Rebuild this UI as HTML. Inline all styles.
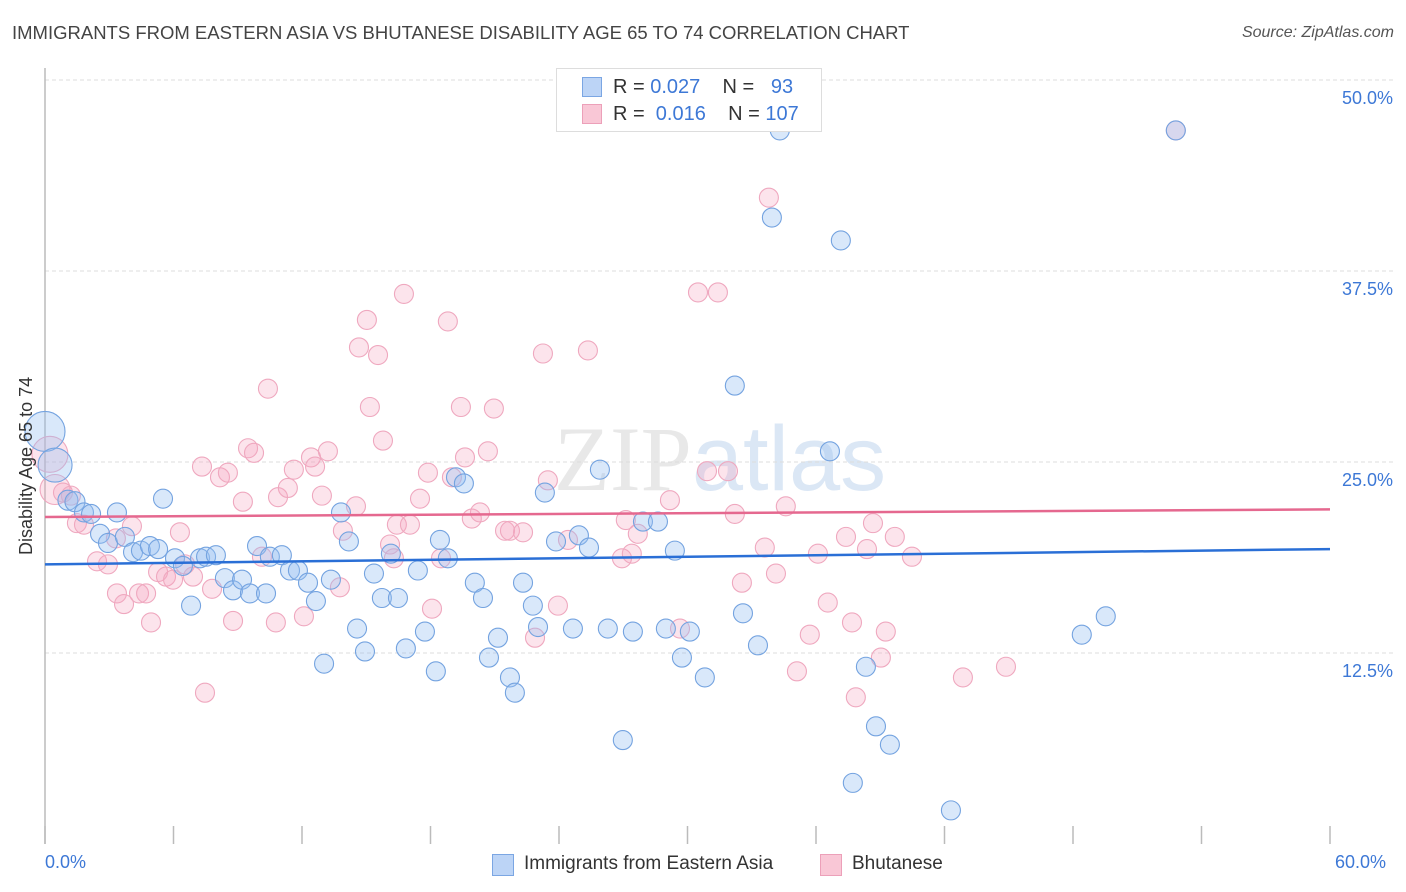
<!DOCTYPE html>
<html><head><meta charset="utf-8"><style>
body{margin:0;background:#fff;font-family:"Liberation Sans",sans-serif;}
#wrap{position:relative;width:1406px;height:892px;overflow:hidden;}
.t{position:absolute;white-space:nowrap;}
</style></head><body>
<div id="wrap">
<div class="t" style="left:12px;top:22px;font-size:18.5px;color:#444;">IMMIGRANTS FROM EASTERN ASIA VS BHUTANESE DISABILITY AGE 65 TO 74 CORRELATION CHART</div>
<div class="t" style="right:12px;top:24px;font-size:16px;color:#555;font-style:italic;">Source: ZipAtlas.com</div>
<svg id="svg" width="1406" height="892" style="position:absolute;left:0;top:0"></svg>
</div>
<script>
const blueX=[0,0.47,1.07,1.4,1.82,2.15,2.57,2.94,3.36,3.73,4.11,4.48,4.9,5.28,5.51,6.07,6.44,6.82,7.24,7.52,7.98,8.4,8.78,9.2,9.57,9.9,10.32,10.5,11.06,11.44,11.81,12.28,12.65,13.03,13.35,13.82,14.19,14.57,14.94,15.36,15.73,16.15,16.48,16.85,17.41,17.74,18.25,18.44,18.81,19.19,19.56,20.07,20.45,20.73,21.15,21.71,21.94,22.32,22.78,23.02,23.34,23.86,24.65,24.93,25.4,25.91,26.28,26.98,27.45,27.92,28.62,28.99,29.41,29.74,30.11,30.81,32.21,32.59,33.29,33.94,34.31,36.65,37.16,37.72,38.33,38.8,39.45,42.3,48.41,49.53,52.8];
const blueY=[27.0,24.8,22.5,22.4,21.7,21.6,20.3,19.7,21.7,20.1,19.1,19.2,19.5,19.3,22.6,18.7,18.2,15.6,18.7,18.8,18.9,17.4,16.6,17.3,16.4,19.5,16.4,18.8,18.9,17.9,17.9,17.1,15.9,11.8,17.3,21.7,19.8,14.1,12.6,17.7,16.1,19.0,16.1,12.8,17.9,13.9,11.3,19.9,18.7,24.0,23.6,17.1,16.1,12.2,13.5,10.9,9.9,17.1,15.6,14.2,23.0,19.8,14.1,20.2,19.4,24.5,14.1,6.8,13.9,21.1,21.1,14.1,19.2,12.2,13.9,10.9,30.0,15.1,13.0,41.0,46.7,25.7,39.5,4.0,11.6,7.7,6.5,2.2,13.7,14.9,46.7];
const blueSize=[20,17,10,10];
const pinkX=[0.23,0.47,0.84,1.21,1.49,1.82,2.43,2.94,3.31,3.36,3.69,4.06,4.39,4.72,4.95,5.28,5.65,5.98,6.3,6.54,6.91,7.33,7.47,7.8,8.17,8.54,8.78,9.24,9.48,9.76,10.13,10.41,10.78,10.88,11.34,11.62,12.09,12.42,12.61,12.93,13.21,13.77,13.91,14.52,14.66,15.03,15.17,15.55,15.78,16.11,16.29,16.43,16.76,17.04,17.51,17.88,18.07,18.49,18.81,19.0,19.42,19.61,19.93,20.31,20.68,20.96,21.48,21.71,22.32,22.88,23.25,23.48,23.95,24.42,25.35,26.94,27.12,27.4,27.68,29.18,29.65,30.49,30.91,31.42,31.89,32.21,32.54,33.61,33.8,34.13,34.59,35.11,35.71,36.09,36.55,37.4,37.68,37.86,38.38,38.66,39.03,39.26,39.68,40.48,42.86,44.87,52.8];
const pinkY=[25.5,23.2,23.0,22.8,21.0,20.9,18.5,18.3,20.0,16.4,15.7,20.8,16.4,16.4,14.5,17.8,17.5,17.3,20.4,18.3,17.5,24.7,9.9,16.7,24.0,24.3,14.6,22.4,25.9,25.6,18.8,29.8,14.5,22.7,23.3,24.5,14.9,25.3,24.7,22.8,25.7,16.8,20.5,22.1,32.5,34.3,28.6,32.0,26.4,19.6,18.7,20.9,36.0,20.9,22.6,24.3,15.4,18.7,34.2,24.0,28.6,25.3,21.3,21.7,25.7,28.5,20.5,20.5,20.4,13.5,32.1,23.8,15.6,19.9,32.3,18.7,21.2,19.0,20.3,22.5,14.1,36.1,24.4,36.1,24.4,21.6,17.1,19.4,42.3,17.7,22.1,11.3,13.7,19.0,15.8,20.1,14.5,9.6,19.3,21.0,12.2,13.9,20.1,18.8,10.9,11.6,46.7];
const pinkSize=[18,15];
const blueTrend=[18.3,19.3];
const pinkTrend=[21.4,21.9];
const yTicks=[12.5,25.0,37.5,50.0];
const yTickLabels=["12.5%","25.0%","37.5%","50.0%"];

const X0=45,X1=1330,Y0=844,PXY=15.28;
const sx=v=>X0+v*(X1-X0)/60;
const sy=v=>Y0-v*PXY;
const svg=document.getElementById('svg');
const NS='http://www.w3.org/2000/svg';
function mk(tag,attrs,parent){const e=document.createElementNS(NS,tag);for(const k in attrs)e.setAttribute(k,attrs[k]);(parent||svg).appendChild(e);return e;}

const wm=mk('text',{x:720,y:490,'text-anchor':'middle','font-size':92,'font-family':'Liberation Serif, serif',fill:'#e8e8e8'});


wm.innerHTML='ZIP<tspan font-family="Liberation Sans, sans-serif" fill="#dbe7f5">atlas</tspan>';

yTicks.forEach((v,i)=>{
  const g=mk('line',{x1:X0,x2:1393,y1:sy(v),y2:sy(v),stroke:'#dcdcdc','stroke-dasharray':'4,3'});
  
  
  const t=mk('text',{x:1393,y:sy(v)+24,'text-anchor':'end','font-size':18,fill:'#3d78d6','font-family':'Liberation Sans, sans-serif'});
  t.textContent=yTickLabels[i];
  
  
});
const ax=mk('line',{x1:X0,x2:X0,y1:68,y2:Y0,stroke:'#bbb','stroke-width':1.5});


for(let i=0;i<=10;i++){
  const tk=mk('line',{x1:sx(i*6),x2:sx(i*6),y1:826,y2:Y0,stroke:'#bbb','stroke-width':1.5});
  
  
}
function pts(xs,ys,sz,fill,stroke,name){
  xs.forEach((x,i)=>{
    const c=mk('circle',{cx:sx(x),cy:sy(ys[i]),r:sz[i]||9.5,fill:fill,stroke:stroke,'stroke-width':1.1});
    
    
  });
}
pts(pinkX,pinkY,pinkSize,'rgba(245,165,192,0.3)','#efa8bf','bhutanese-point');
pts(blueX,blueY,blueSize,'rgba(150,190,240,0.36)','#74a3e0','eastern-asia-point');
const bl=mk('line',{x1:X0,x2:X1,y1:sy(blueTrend[0]),y2:sy(blueTrend[1]),stroke:'#2a6fd6','stroke-width':2.5});


const pl=mk('line',{x1:X0,x2:X1,y1:sy(pinkTrend[0]),y2:sy(pinkTrend[1]),stroke:'#e5688f','stroke-width':2.5});


</script>
<div class="t" style="left:16px;top:555px;transform:rotate(-90deg);transform-origin:0 0;font-size:18px;color:#333;">Disability Age 65 to 74</div>
<div class="t" style="left:45px;top:852px;font-size:18px;color:#3d78d6;">0.0%</div>
<div class="t" style="left:1335px;top:852px;font-size:18px;color:#3d78d6;">60.0%</div>
<div style="position:absolute;left:556px;top:68px;width:264px;height:62px;border:1px solid #ddd;background:#fff;">
 <div style="position:absolute;left:25px;top:8px;width:18px;height:18px;background:#bcd4f6;border:1px solid #7ba6e3;"></div>
 <div style="position:absolute;left:25px;top:35px;width:18px;height:18px;background:#f9c7d6;border:1px solid #eca0b9;"></div>
 <div class="t" style="left:56px;top:7px;font-size:20px;color:#333;">R = <span style="color:#3d78d6">0.027</span>&nbsp;&nbsp;&nbsp; N = &nbsp;&nbsp;<span style="color:#3d78d6">93</span></div>
 <div class="t" style="left:56px;top:34px;font-size:20px;color:#333;">R = &nbsp;<span style="color:#3d78d6">0.016</span>&nbsp;&nbsp;&nbsp; N = <span style="color:#3d78d6">107</span></div>
</div>
<div style="position:absolute;left:492px;top:854px;width:20px;height:20px;background:#bcd4f6;border:1px solid #7ba6e3;"></div>
<div class="t" style="left:524px;top:853px;font-size:19px;color:#333;">Immigrants from Eastern Asia</div>
<div style="position:absolute;left:820px;top:854px;width:20px;height:20px;background:#f9c7d6;border:1px solid #eca0b9;"></div>
<div class="t" style="left:852px;top:853px;font-size:19px;color:#333;">Bhutanese</div>
</body></html>
